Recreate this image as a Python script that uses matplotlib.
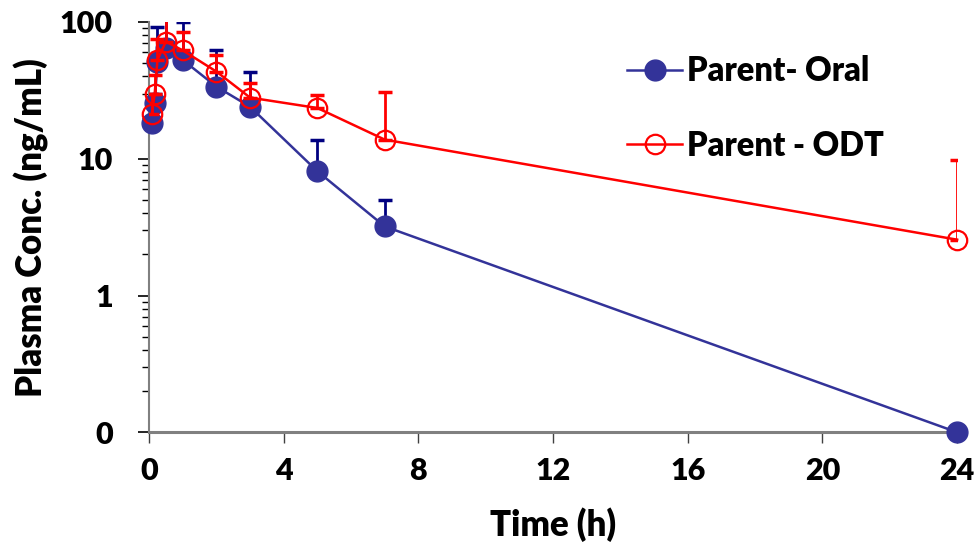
import matplotlib
matplotlib.use("Agg")
import matplotlib.pyplot as plt
from matplotlib.ticker import LogLocator, FixedLocator, NullFormatter
import numpy as np

plt.rcParams['font.family'] = ['Lato', 'DejaVu Sans']
plt.rcParams['font.weight'] = 'heavy'

# sampling times (h)
time_h = [0.083, 0.167, 0.25, 0.5, 1, 2, 3, 5, 7, 24]

# mean concentrations (ng/mL); 0 is drawn at the 0.1 floor of the log axis
oral_mean = [18.2, 25.5, 51.4, 65.0, 52.8, 33.7, 24.0, 8.1, 3.2, 0.1]
oral_upper = [22.0, 30.0, 92.6, 110.0, 100.0, 62.0, 43.0, 13.6, 5.0, 0.1]

odt_mean = [21.3, 29.7, 52.8, 71.9, 62.0, 43.4, 28.0, 23.5, 13.8, 2.56]
odt_upper = [30.0, 41.0, 75.0, 120.0, 85.0, 57.5, 36.0, 29.3, 31.0, 9.85]

blue = '#333399'
blue_err = '#000080'
red = '#ff0000'
fw = 'heavy'

fig = plt.figure(figsize=(9.76, 5.47), dpi=100)
ax = fig.add_axes([0.1527, 0.2097, 0.828, 0.7501])

t = np.array(time_h)
om = np.array(oral_mean)
ou = np.array(oral_upper)
dm = np.array(odt_mean)
du = np.array(odt_upper)

# oral
ax.errorbar(t, om, yerr=[np.zeros_like(om), ou - om], fmt='none',
            ecolor=blue_err, elinewidth=2, capsize=5, capthick=2.5, zorder=2)
ax.plot(t, om, '-o', color=blue, lw=1.8, ms=15, mfc=blue, mec=blue,
        label='Parent- Oral', zorder=3, clip_on=False)

# ODT
ax.errorbar(t, dm, yerr=[np.zeros_like(dm), du - dm], fmt='none',
            ecolor=red, elinewidth=2, capsize=5, capthick=2.5, zorder=4)
ax.plot(t, dm, '-o', color=red, lw=1.8, ms=14, mfc='none', mec=red, mew=1.6,
        label='Parent - ODT', zorder=5, clip_on=False)

ax.set_yscale('log')
ax.set_ylim(0.1, 100)
ax.set_xlim(0, 24)
ax.yaxis.set_major_locator(FixedLocator([0.1, 1, 10, 100]))
ax.set_yticklabels(['0', '1', '10', '100'], fontweight=fw)
ax.yaxis.set_minor_locator(LogLocator(base=10, subs=np.arange(2, 10)))
ax.yaxis.set_minor_formatter(NullFormatter())
ax.set_xticks([0, 4, 8, 12, 16, 20, 24])
ax.set_xticklabels(['0', '4', '8', '12', '16', '20', '24'], fontweight=fw)

for s in ['top', 'right']:
    ax.spines[s].set_visible(False)
ax.spines['left'].set_color('#808080')
ax.spines['left'].set_linewidth(1.5)
ax.spines['bottom'].set_color('#808080')
ax.spines['bottom'].set_linewidth(2.2)

ax.tick_params(axis='y', which='major', direction='out', length=8, width=1.2,
               labelsize=22, pad=18)
ax.tick_params(axis='y', which='minor', direction='out', length=5, width=1.0)
ax.tick_params(axis='x', which='major', direction='out', length=8, width=1.0,
               color='#404040', labelsize=22, pad=10)

ax.set_xlabel('Time (h)', fontsize=25, fontweight=fw, labelpad=16)
ax.set_ylabel('Plasma Conc. (ng/mL)', fontsize=25, fontweight=fw, labelpad=8)

ax.legend(loc='upper left', bbox_to_anchor=(0.555, 0.99), frameon=False,
          prop={'size': 23.5, 'weight': fw}, handlelength=1.7,
          handletextpad=0.15, labelspacing=1.3)

fig.savefig('out.png', dpi=100)
